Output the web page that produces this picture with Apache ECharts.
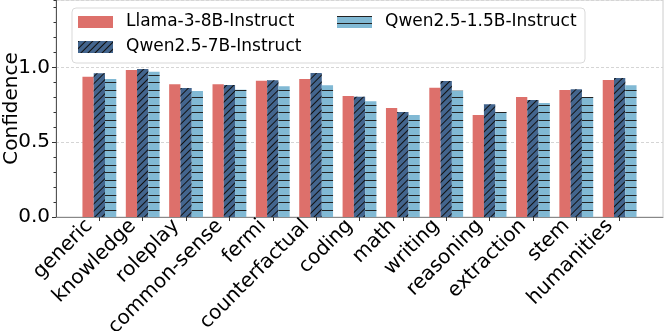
<!DOCTYPE html>
<html>
<head>
<meta charset="utf-8">
<script src="https://cdn.jsdelivr.net/npm/echarts@6/dist/echarts.min.js"></script>
<style>
  html, body { margin: 0; padding: 0; background: #fff; }
  #chart { width: 664px; height: 331px; }
</style>
</head>
<body>
<div id="chart"></div>
<script>
var categories = ['generic', 'knowledge', 'roleplay', 'common-sense', 'fermi', 'counterfactual', 'coding', 'math', 'writing', 'reasoning', 'extraction', 'stem', 'humanities']
var llama8b = [0.937, 0.982, 0.887, 0.887, 0.911, 0.922, 0.809, 0.729, 0.864, 0.682, 0.802, 0.849, 0.915]
var qwen7b = [0.960, 0.989, 0.862, 0.882, 0.913, 0.962, 0.804, 0.702, 0.909, 0.753, 0.782, 0.853, 0.929]
var qwen15b = [0.922, 0.971, 0.842, 0.851, 0.873, 0.880, 0.773, 0.682, 0.844, 0.702, 0.762, 0.802, 0.880]
var seriesNames = ['Llama-3-8B-Instruct', 'Qwen2.5-7B-Instruct', 'Qwen2.5-1.5B-Instruct']

// one empty slot at each end, like the xlim margin in the original
var xCats = [''].concat(categories, [''])
function pad(arr) {
  return ['-'].concat(arr, ['-'])
}

var font = 'DejaVu Sans'
var chart = echarts.init(document.getElementById('chart'))

var option = {
  animation: false,
  textStyle: { fontFamily: font },
  grid: {
    left: 56,
    right: 1,
    top: 0,
    bottom: 114,
    outerBoundsMode: 'none',
    containLabel: false,
    show: true,
    borderColor: '#cccccc',
    borderWidth: 1
  },
  graphic: [{
    type: 'rect',
    z: 3,
    shape: { x: 72, y: 8, width: 513, height: 55, r: 4 },
    style: { fill: 'rgba(255,255,255,0.85)', stroke: '#d9d9d9', lineWidth: 1 }
  }],
  legend: [
    {
      data: [seriesNames[0], seriesNames[1]],
      orient: 'vertical',
      left: 78,
      top: 12,
      padding: 0,
      itemGap: 5,
      itemWidth: 35,
      itemHeight: 12,
      icon: 'rect',
      textStyle: { fontFamily: font, fontSize: 17, color: '#000', lineHeight: 20, padding: [0, 0, 0, 8] }
    },
    {
      data: [seriesNames[2]],
      orient: 'vertical',
      left: 337,
      top: 12,
      padding: 0,
      itemWidth: 35,
      itemHeight: 12,
      icon: 'rect',
      textStyle: { fontFamily: font, fontSize: 17, color: '#000', lineHeight: 20, padding: [0, 0, 0, 8] }
    }
  ],
  xAxis: {
    type: 'category',
    data: xCats,
    boundaryGap: false,
    axisLine: { lineStyle: { color: '#888888', width: 1 } },
    axisTick: {
      length: 4,
      lineStyle: { color: '#333' },
      interval: function (index, value) { return value !== '' }
    },
    axisLabel: {
      rotate: 45,
      interval: 0,
      margin: 10,
      padding: [0, 4, 0, 0],
      verticalAlign: 'bottom',
      fontFamily: font,
      fontSize: 20,
      color: '#000'
    },
    splitLine: { show: false }
  },
  yAxis: [
    {
      type: 'value',
      min: 0,
      max: 1.45,
      interval: 0.5,
      name: 'Confidence',
      nameLocation: 'middle',
      nameGap: 34,
      nameMoveOverlap: false,
      nameTextStyle: { fontFamily: font, fontSize: 20, color: '#000' },
      axisLine: { show: true, lineStyle: { color: '#555555', width: 1 } },
      axisTick: { show: true, length: 4, lineStyle: { color: '#333' } },
      axisLabel: {
        showMaxLabel: false,
        margin: 6,
        fontFamily: font,
        fontSize: 20,
        color: '#000',
        formatter: function (v) { return v.toFixed(1) }
      },
      splitLine: { show: true, lineStyle: { color: '#d5d5d5', type: [3, 2], width: 1 } }
    },
    {
      type: 'value',
      min: 0,
      max: 1.45,
      interval: 0.1,
      position: 'left',
      axisLine: { show: false },
      axisTick: { show: true, length: 2.5, lineStyle: { color: '#333' } },
      axisLabel: { show: false },
      splitLine: { show: false }
    }
  ],
  series: [
    {
      name: seriesNames[0],
      type: 'bar',
      data: pad(llama8b),
      barWidth: '26%',
      barGap: '0%',
      itemStyle: { color: '#dd706b' }
    },
    {
      name: seriesNames[1],
      type: 'bar',
      data: pad(qwen7b),
      barWidth: '26%',
      barGap: '0%',
      itemStyle: {
        color: '#43658e',
        decal: {
          symbol: 'rect',
          symbolSize: 1,
          color: '#111111',
          dashArrayX: [1, 0],
          dashArrayY: [1, 4],
          rotation: -Math.PI / 4
        }
      }
    },
    {
      name: seriesNames[2],
      type: 'bar',
      data: pad(qwen15b),
      barWidth: '26%',
      barGap: '0%',
      itemStyle: {
        color: '#81b9d4',
        decal: {
          symbol: 'rect',
          symbolSize: 1,
          color: '#222222',
          dashArrayX: [1, 0],
          dashArrayY: [1, 6, 1, 7],
          rotation: 0
        }
      }
    }
  ]
}

chart.setOption(option)
window.addEventListener('resize', function () {
  chart.resize()
})
</script>
</body>
</html>
